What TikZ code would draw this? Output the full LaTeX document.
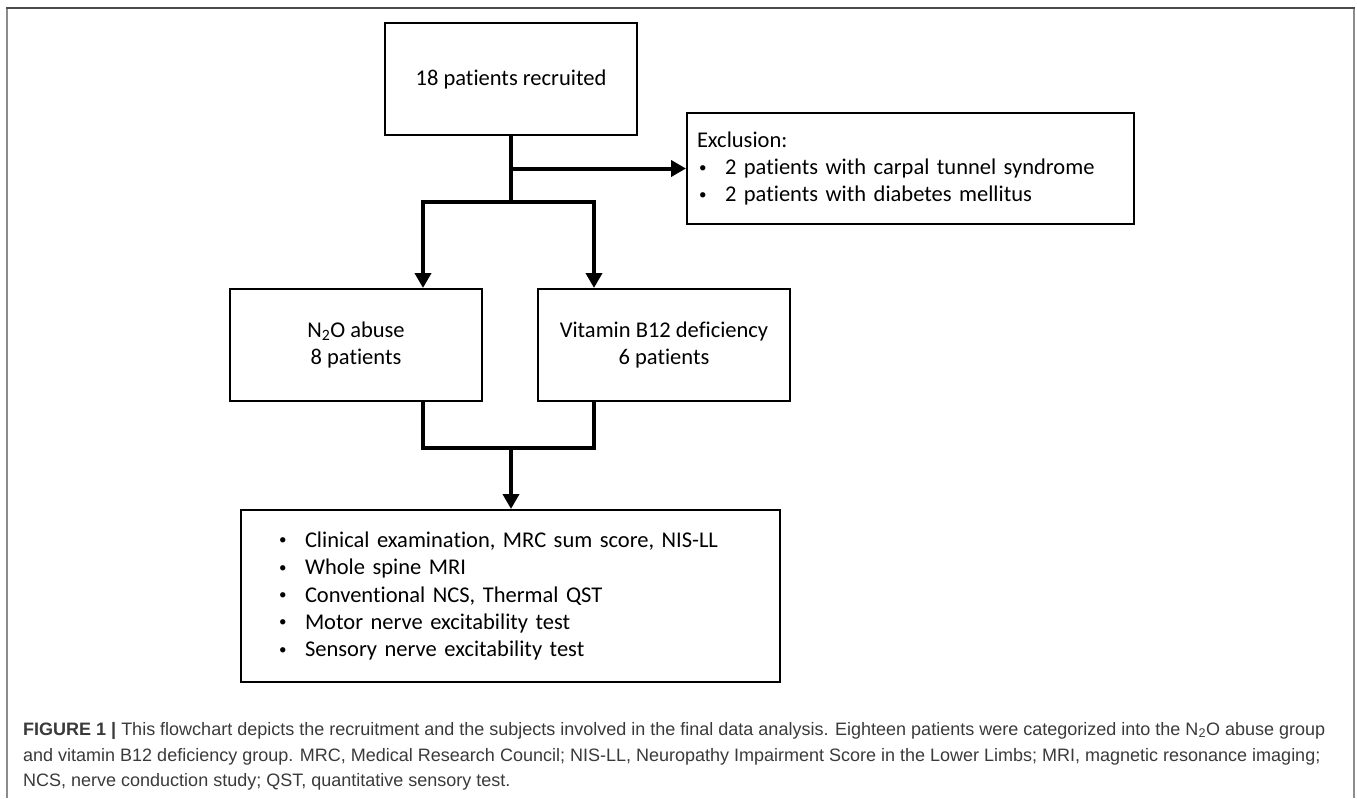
\documentclass[tikz,border=0pt]{standalone}
\usepackage{fontspec}
\setmainfont{Carlito}[Ligatures=NoCommon]
\newfontfamily\capfont{Liberation Sans}
\usetikzlibrary{arrows.meta}
\newcommand\bul{\makebox[27pt][l]{\hspace*{1pt}\raisebox{2.5pt}{\fontsize{15}{15}\selectfont •}}}
\definecolor{captext}{HTML}{3A3A3A}
\begin{document}
\begin{tikzpicture}[x=1pt,y=-1pt,
  box/.style={draw=black, line width=2pt, inner sep=0pt, align=center,
    font=\fontsize{22.5}{27.3}\selectfont},
  conn/.style={line width=4pt, line join=miter},
  arr/.style={conn, -{Triangle[length=15pt,width=16pt]}},
  capt/.style={anchor=base west, inner sep=0pt, text=captext,
    font=\capfont\fontsize{18}{25}\selectfont},
  frameside/.style={line width=2pt, black!45},
  frametop/.style={line width=1.5pt, black!70}]
\useasboundingbox (0,0) rectangle (1357,798);
% outer frame
\draw[frameside] (7,798) -- (7,8);
\draw[frameside] (1354,8) -- (1354,798);
\draw[frametop] (6,8) -- (1355,8);
% boxes
\node[box, minimum width=252pt, minimum height=112pt] (top) at (511,79) {18 patients recruited};
\node[box, minimum width=447pt, minimum height=111pt, text width=427pt, inner xsep=10pt, align=left] (excl) at (910.5,168.5)
  {Exclusion:\\\hspace*{1pt}\bul 2 patients with carpal tunnel syndrome\\\hspace*{1pt}\bul 2 patients with diabetes mellitus};
\node[box, minimum width=252pt, minimum height=112pt] (lbox) at (356,345) {N\textsubscript{2}O abuse\\8 patients};
\node[box, minimum width=252pt, minimum height=112pt] (rbox) at (664,345) {Vitamin B12 deficiency\\6 patients};
\node[box, minimum width=539pt, minimum height=172pt, text width=465pt, inner xsep=37pt, align=left] (bot) at (510.5,596)
  {\bul Clinical examination, MRC sum score, NIS-LL\\
   \bul Whole spine MRI\\
   \bul Conventional NCS, Thermal QST\\
   \bul Motor nerve excitability test\\
   \bul Sensory nerve excitability test};
% junctions
\coordinate (bl) at (423,202);
\coordinate (br) at (594,202);
\coordinate (j2) at (511,448);
% connectors
\draw[conn] (top.south) -- (top.south |- bl);
\draw[arr] (top.south |- excl.west) -- (excl.west);
\draw[arr] (top.south |- bl) -| (bl |- lbox.north);
\draw[arr] (top.south |- bl) -| (br |- rbox.north);
\draw[conn] (bl |- lbox.south) |- (j2) -| (br |- rbox.south);
\draw[arr] (j2) -- (j2 |- bot.north);
% caption
\node[capt] (cap1) at (23,735) {\textbf{FIGURE 1 |} This flowchart depicts the recruitment and the subjects involved in the final data analysis. Eighteen patients were categorized into the N\textsubscript{2}O abuse group};
\node[capt] (cap2) at (23,761) {and vitamin B12 deficiency group. MRC, Medical Research Council; NIS-LL, Neuropathy Impairment Score in the Lower Limbs; MRI, magnetic resonance imaging;};
\node[capt] (cap3) at (23,786) {NCS, nerve conduction study; QST, quantitative sensory test.};
\end{tikzpicture}
\end{document}
